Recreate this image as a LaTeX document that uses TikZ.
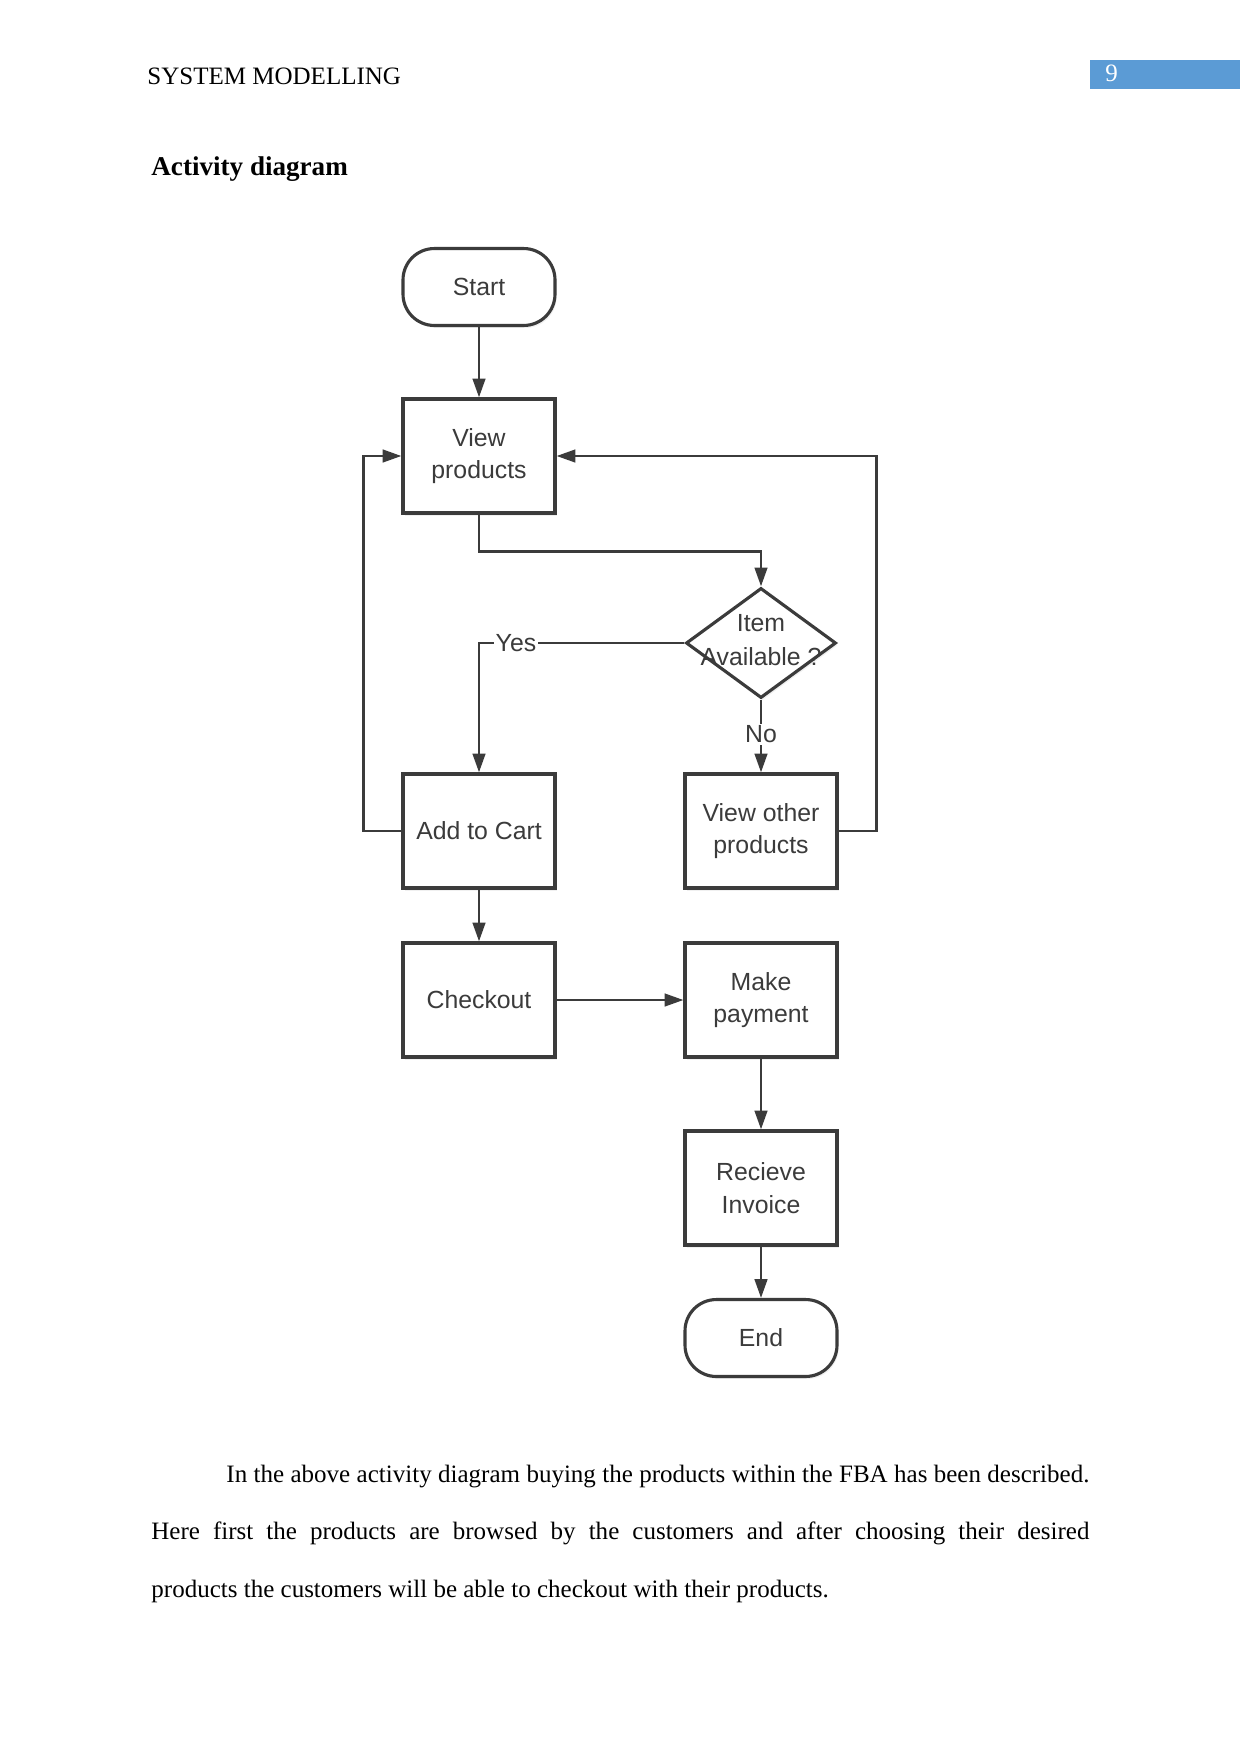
\documentclass[tikz,border=0pt]{standalone}
\usepackage{fontspec}
\setmainfont{Liberation Serif}
\newfontfamily\chartfont{Liberation Sans}
\usetikzlibrary{arrows.meta, shapes.geometric, shadows}
\definecolor{chartgray}{HTML}{3B3B3B}
\definecolor{pageblue}{HTML}{5B9BD5}

\begin{document}
\begin{tikzpicture}[x=0.4797pt, y=-0.4797pt,
  box/.style={draw=chartgray, line width=1.5pt, fill=white,
    minimum width=72.9pt, minimum height=54.7pt, inner sep=2pt,
    align=center, text=chartgray,
    font=\chartfont\fontsize{11.9}{15.6}\selectfont,
    drop shadow={opacity=0.12, shadow xshift=0.8pt, shadow yshift=-1.2pt}},
  term/.style={box, rounded corners=15pt, minimum height=36.9pt},
  decision/.style={diamond, draw=chartgray, line width=1.5pt, fill=white,
    minimum width=72pt, minimum height=52.8pt, inner sep=0pt,
    drop shadow={opacity=0.12, shadow xshift=0.8pt, shadow yshift=-1.2pt}},
  dtext/.style={align=center, text=chartgray, inner sep=0pt,
    font=\chartfont\fontsize{11.9}{16.3}\selectfont},
  guard/.style={fill=white, text=chartgray, inner sep=1pt,
    font=\chartfont\fontsize{11.9}{14}\selectfont},
  flow/.style={draw=chartgray, line width=1.3pt,
    -{Triangle[length=9pt, width=6pt]}}]
  \useasboundingbox (0,0) rectangle (1241,1754);

  % page header
  \node[anchor=base west, inner sep=0pt, font=\fontsize{12}{14}\selectfont]
    (header) at (147,85) {SYSTEM MODELLING};
  \fill[pageblue] (1090,60) rectangle (1240,89);
  \node[anchor=base west, inner sep=0pt, text=white,
    font=\fontsize{12}{14}\selectfont] (pagenum) at (1105,82) {9};
  \node[anchor=base west, inner sep=0pt, font=\bfseries\fontsize{13}{15}\selectfont]
    (title) at (151,175) {Activity diagram};

  % activity nodes
  \node[term] (start) at (479,287) {Start};
  \node[box] (view) at (479,456) {View\\products};
  \node[decision] (avail) at (761,643) {};
  \node[dtext] (availtext) at (761,640) {Item\\Available ?};
  \node[box] (cart) at (479,831) {Add to Cart};
  \node[box] (other) at (761,831) {View other\\products};
  \node[box] (checkout) at (479,1000) {Checkout};
  \node[box] (pay) at (761,1000) {Make\\payment};
  \node[box] (invoice) at (761,1188) {Recieve\\Invoice};
  \node[term] (end) at (761,1338) {End};

  % connectors
  \draw[flow] (start) -- (view);
  \draw[flow] (view.south) -- ++(0,37) -| (avail.north);
  \draw[flow] (avail.west) -| node[guard, pos=0.41] {Yes} (cart.north);
  \draw[flow] (avail.south) -- node[guard, pos=0.48] {No} (other.north);
  \draw[flow] (other.east) -- ++(38,0) |- (view.east);
  \draw[flow] (cart.west) -- ++(-38,0) |- (view.west);
  \draw[flow] (cart) -- (checkout);
  \draw[flow] (checkout) -- (pay);
  \draw[flow] (pay) -- (invoice);
  \draw[flow] (invoice) -- (end);

  % text below the diagram
  \node[anchor=base west, inner sep=0pt, text width=450pt, align=justify,
    font=\fontsize{12}{27.6}\selectfont] (para) at (151,1482)
    {\hspace*{36pt}In the above activity diagram buying the products within the FBA has been described.\linebreak
     Here first the products are browsed by the customers and after choosing their desired\linebreak
     products the customers will be able to checkout with their products.};
\end{tikzpicture}
\end{document}
